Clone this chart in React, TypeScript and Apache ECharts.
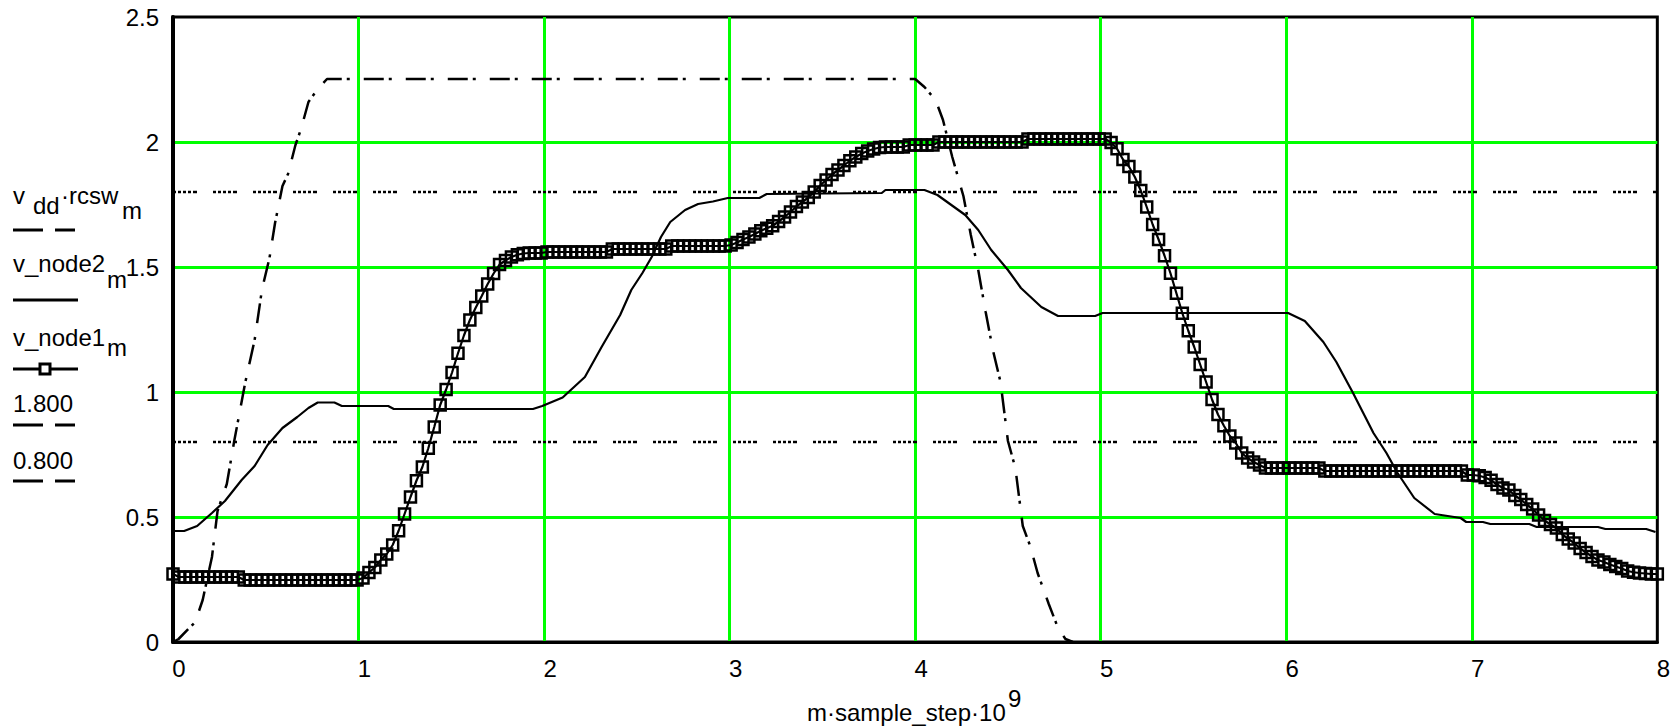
import React, { useEffect, useRef } from "react";
import * as echarts from "echarts";

// x axis: m·sample_step·10^9 ; sample step of node1 record (ns)
const SAMPLE_STEP = 0.032;

const node1Y = [
  0.272,
  0.26, 0.26, 0.26, 0.26, 0.26, 0.26, 0.26, 0.26, 0.26, 0.26, 0.26,
  0.248, 0.248, 0.248, 0.248, 0.248, 0.248, 0.248, 0.248, 0.248, 0.248,
  0.248, 0.248, 0.248, 0.248, 0.248, 0.248, 0.248, 0.248, 0.248, 0.248,
  0.256, 0.278, 0.298, 0.328, 0.352, 0.388, 0.445, 0.512, 0.58, 0.645,
  0.70, 0.775, 0.86, 0.948, 1.01, 1.078, 1.155, 1.226, 1.288, 1.338,
  1.384, 1.432, 1.474, 1.51, 1.526, 1.54, 1.549, 1.554, 1.556, 1.556, 1.556,
  1.56, 1.56, 1.56, 1.56, 1.56, 1.56, 1.56, 1.56, 1.56, 1.56, 1.56,
  1.572, 1.572, 1.572, 1.572, 1.572, 1.572, 1.572, 1.572, 1.572, 1.572,
  1.584, 1.584, 1.584, 1.584, 1.584, 1.584, 1.584, 1.584, 1.584, 1.584,
  1.588, 1.598, 1.61, 1.62, 1.632, 1.645, 1.655, 1.665, 1.682, 1.70,
  1.72, 1.742, 1.76, 1.778, 1.80, 1.826, 1.848, 1.87, 1.888, 1.906,
  1.925, 1.94, 1.954, 1.964, 1.972, 1.978, 1.98, 1.98, 1.98, 1.98,
  1.988, 1.988, 1.988, 1.988, 1.988,
  2.0, 2.0, 2.0, 2.0, 2.0, 2.0, 2.0, 2.0, 2.0, 2.0, 2.0, 2.0, 2.0, 2.0, 2.0,
  2.012, 2.012, 2.012, 2.012, 2.012, 2.012, 2.012, 2.012, 2.012, 2.012,
  2.012, 2.012, 2.012, 2.012,
  1.998, 1.973, 1.93, 1.902, 1.86, 1.806, 1.74, 1.67, 1.61, 1.545,
  1.475, 1.395, 1.315, 1.245, 1.18, 1.11, 1.04, 0.97, 0.91, 0.865,
  0.824, 0.796, 0.756, 0.736, 0.72, 0.708,
  0.696, 0.696, 0.696, 0.696, 0.696, 0.696, 0.696, 0.696, 0.696, 0.696,
  0.684, 0.684, 0.684, 0.684, 0.684, 0.684, 0.684, 0.684, 0.684, 0.684,
  0.684, 0.684, 0.684, 0.684, 0.684, 0.684, 0.684, 0.684, 0.684, 0.684,
  0.684, 0.684, 0.684, 0.684,
  0.668, 0.668, 0.665, 0.658, 0.647, 0.63, 0.616, 0.608, 0.586, 0.57,
  0.55, 0.532, 0.508, 0.486, 0.47, 0.456, 0.43, 0.412, 0.396, 0.374,
  0.358, 0.342, 0.328, 0.32, 0.31, 0.302, 0.294, 0.284, 0.279, 0.276,
  0.274, 0.272, 0.272,
];

// v_node2_m
const node2X = [
  0.0, 0.06, 0.13, 0.21, 0.28, 0.37, 0.44, 0.51, 0.59, 0.67, 0.73, 0.78,
  0.87, 0.91, 1.16, 1.19, 1.94, 1.99, 2.1, 2.22, 2.31, 2.41, 2.47, 2.53,
  2.58, 2.63, 2.68, 2.76, 2.83, 2.91, 2.99, 3.16, 3.2, 3.82, 3.84, 4.05,
  4.12, 4.21, 4.27, 4.34, 4.41, 4.5, 4.57, 4.68, 4.77, 4.97, 5.01, 6.01,
  6.1, 6.2, 6.27, 6.36, 6.47, 6.54, 6.6, 6.69, 6.8, 6.94, 6.97, 7.06, 7.1,
  7.31, 7.35, 7.68, 7.72, 7.94, 7.99,
];
const node2Y = [
  0.444, 0.444, 0.464, 0.516, 0.564, 0.648, 0.704, 0.788, 0.856, 0.9, 0.936,
  0.958, 0.958, 0.944, 0.944, 0.932, 0.932, 0.944, 0.978, 1.06, 1.18, 1.308,
  1.408, 1.476, 1.54, 1.62, 1.68, 1.728, 1.752, 1.762, 1.776, 1.776, 1.792,
  1.796, 1.808, 1.808, 1.788, 1.74, 1.708, 1.648, 1.568, 1.488, 1.416, 1.34,
  1.304, 1.304, 1.316, 1.316, 1.284, 1.2, 1.12, 0.996, 0.836, 0.756, 0.676,
  0.576, 0.512, 0.496, 0.48, 0.48, 0.472, 0.472, 0.46, 0.46, 0.452, 0.452,
  0.44,
];

// v_dd·rcsw_m
const vddX = [
  0.0, 0.03, 0.12, 0.16, 0.21, 0.24, 0.29, 0.33, 0.39, 0.44, 0.48, 0.52,
  0.55, 0.59, 0.62, 0.66, 0.69, 0.73, 0.78, 0.83, 4.0, 4.05, 4.11, 4.15,
  4.2, 4.26, 4.3, 4.34, 4.38, 4.42, 4.46, 4.5, 4.54, 4.58, 4.62, 4.66, 4.72,
  4.77, 4.81, 4.85,
];
const vddY = [
  0.0, 0.012, 0.08, 0.168, 0.34, 0.524, 0.632, 0.804, 1.04, 1.208, 1.412,
  1.536, 1.676, 1.824, 1.872, 1.988, 2.052, 2.16, 2.212, 2.252, 2.252, 2.22,
  2.168, 2.088, 1.94, 1.784, 1.628, 1.488, 1.32, 1.164, 1.04, 0.804, 0.696,
  0.464, 0.384, 0.276, 0.152, 0.056, 0.012, 0.0,
];

const level1 = 1.8;
const level2 = 0.8;
const xRange = [0, 8];

const FONT = "'Liberation Sans', Arial, sans-serif";
const groupDots = [3, 2, 3, 2, 3, 2, 3, 2, 4, 16];
const dashDot = [20, 5, 3, 14];

export default function App() {
  const ref = useRef<HTMLDivElement>(null);
  useEffect(() => {
    if (!ref.current) return;
    const chart = echarts.init(ref.current, undefined, { renderer: "svg" });

    const txt = (text: string, x: number, y: number, extra: any = {}) => ({
      type: "text",
      x,
      y,
      z: 100,
      style: {
        text,
        fill: "#000",
        fontSize: 24,
        fontFamily: FONT,
        align: "left",
        verticalAlign: "middle",
        ...extra,
      },
    });
    const seg = (x1: number, y1: number, x2: number, y2: number) => ({
      type: "line",
      z: 100,
      shape: { x1, y1, x2, y2 },
      style: { stroke: "#000", lineWidth: 3 },
    });

    const graphic: any[] = [
      // legend
      txt("v", 13, 195),
      txt("dd", 33, 205),
      txt("·rcsw", 61, 195),
      txt("m", 122, 210),
      seg(13, 230, 43, 230),
      seg(55, 230, 75, 230),
      txt("v_node2", 13, 263),
      txt("m", 107, 279),
      seg(13, 300, 78, 300),
      txt("v_node1", 13, 337),
      txt("m", 107, 347),
      seg(13, 369, 78, 369),
      {
        type: "rect",
        z: 101,
        shape: { x: 40, y: 364, width: 10, height: 10 },
        style: { fill: "#fff", stroke: "#000", lineWidth: 3 },
      },
      txt("1.800", 13, 403),
      seg(13, 425, 43, 425),
      seg(55, 425, 75, 425),
      txt("0.800", 13, 460),
      seg(13, 481, 43, 481),
      seg(55, 481, 75, 481),
      // x axis title
      txt("m·sample_step·10", 807, 712),
      txt("9", 1008, 698),
    ];

    chart.setOption({
      animation: false,
      backgroundColor: "#fff",
      grid: {
        left: 173,
        right: 12,
        top: 17,
        bottom: 86,
        show: true,
        borderColor: "#000",
        borderWidth: 3,
        backgroundColor: "transparent",
      },
      xAxis: {
        type: "value",
        min: xRange[0],
        max: xRange[1],
        interval: 1,
        axisLine: { show: true, onZero: false, lineStyle: { color: "#000", width: 3 } },
        axisTick: { show: false },
        splitLine: {
          show: true,
          showMinLine: false,
          showMaxLine: false,
          lineStyle: { color: "#00ff00", width: 3 },
        },
        axisLabel: {
          color: "#000",
          fontSize: 24,
          fontFamily: FONT,
          margin: 14,
          padding: [0, 0, 0, 12],
        },
      },
      yAxis: {
        type: "value",
        min: 0,
        max: 2.5,
        interval: 0.5,
        axisLine: { show: true, onZero: false, lineStyle: { color: "#000", width: 4 } },
        axisTick: { show: false },
        splitLine: {
          show: true,
          showMinLine: false,
          showMaxLine: false,
          lineStyle: { color: "#00ff00", width: 3 },
        },
        axisLabel: {
          color: "#000",
          fontSize: 24,
          fontFamily: FONT,
          margin: 14,
          padding: [6, 0, 0, 0],
          formatter: (v: number) => String(v),
        },
      },
      graphic,
      series: [
        {
          name: "1.800",
          type: "line",
          data: [[xRange[0], level1], [xRange[1], level1]],
          showSymbol: false,
          lineStyle: { color: "#000", width: 2.5, type: groupDots },
          z: 3,
        },
        {
          name: "0.800",
          type: "line",
          data: [[xRange[0], level2], [xRange[1], level2]],
          showSymbol: false,
          lineStyle: { color: "#000", width: 2.5, type: groupDots },
          z: 3,
        },
        {
          name: "v_dd·rcsw_m",
          type: "line",
          data: vddX.map((x, i) => [x, vddY[i]]),
          showSymbol: false,
          lineStyle: { color: "#000", width: 2.5, type: dashDot },
          z: 4,
        },
        {
          name: "v_node2_m",
          type: "line",
          data: node2X.map((x, i) => [x, node2Y[i]]),
          showSymbol: false,
          lineStyle: { color: "#000", width: 2.2 },
          z: 5,
        },
        {
          name: "v_node1_m",
          type: "line",
          data: node1Y.map((y, i) => [i * SAMPLE_STEP, y]),
          symbol: "rect",
          symbolSize: 11,
          showAllSymbol: true,
          itemStyle: { color: "transparent", borderColor: "#000", borderWidth: 2.5 },
          lineStyle: { color: "#000", width: 2.2 },
          z: 6,
        },
      ],
    });
    return () => chart.dispose();
  }, []);

  return (
    <div
      ref={ref}
      style={{ position: "absolute", left: 0, top: 0, width: 1673, height: 728, background: "#fff" }}
    />
  );
}
